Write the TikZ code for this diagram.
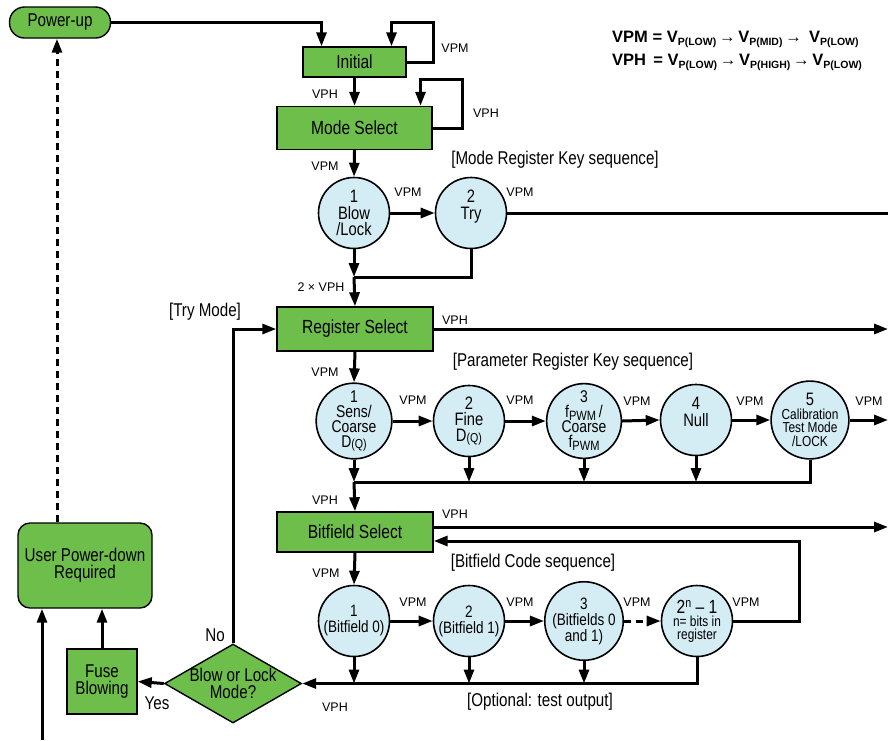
\documentclass[tikz,border=0pt]{standalone}
\usepackage{fontspec}
\setmainfont{Liberation Sans}
\newfontfamily\nar[FakeStretch=0.82]{Liberation Sans}
\usetikzlibrary{arrows.meta,shapes.geometric}
\definecolor{gfill}{RGB}{110,190,75}
\definecolor{cfill}{RGB}{212,236,244}
\newcommand\fs[2]{\fontsize{#1}{#2}\selectfont}
\newcommand\ssub[1]{\raisebox{-3.5pt}{\fs{10.5}{10.5}#1}}
\newcommand\arr{{\mdseries\,→\,}}
\newcommand\dq{\raisebox{-1.5pt}{\fs{13}{13}(Q)}}
\newcommand\fpwm{f\raisebox{-3pt}{\fs{13.5}{13.5}PWM}}
\begin{document}
\begin{tikzpicture}[x=1pt,y=-1pt,
 gbox/.style={draw, line width=1.4pt, fill=gfill, inner sep=0pt, align=center, font=\nar\fs{19}{19}},
 circ/.style={circle, draw, line width=1.6pt, fill=cfill, minimum size=71pt, inner sep=0pt, align=center, font=\nar\fs{18}{16.5}},
 lab/.style={inner sep=0pt, font=\fs{12.5}{13}},
 nlab/.style={inner sep=0pt, font=\nar\fs{18.5}{18}},
 flow/.style={line width=3pt, -{Triangle[length=14pt,width=10pt]}},
 dflow/.style={flow, dash pattern=on 7pt off 5pt},
 bus/.style={line width=3pt},
]
\useasboundingbox (0,0) rectangle (888,740);

% nodes
\node[gbox, rounded corners=15pt, minimum width=101pt, minimum height=31pt, font=\nar\fs{18.5}{18}] (pu) at (60,22.5) {Power-up};
\node[gbox, minimum width=103pt, minimum height=30pt] (init) at (354.5,62) {Initial};
\node[gbox, minimum width=155pt, minimum height=43pt] (ms) at (354.5,128) {Mode Select};
\node[circ] (m1) at (354,213) {1\\Blow\\/Lock};
\node[circ] (m2) at (471,213) {2\\Try\\\mbox{}};
\node[gbox, minimum width=156pt, minimum height=44pt] (rs) at (355,329) {Register Select};

\node[circ, font=\nar\fs{17}{15}] (p1) at (354,421) {1\\Sens/\\Coarse\\D\dq};
\node[circ, font=\nar\fs{18}{16}] (p2) at (469,421) {2\\Fine\\D\dq};
\node[circ, font=\nar\fs{17}{15}] (p3) at (584,421) {3\\\fpwm\,/\\Coarse\\\fpwm};
\node[circ] (p4) at (696,420) {4\\Null\\\mbox{}};
\node[circ, font=\nar\fs{14.5}{13.5}] (p5) at (810,420) {{\fs{18}{13.5}5}\\Calibration\\Test Mode\\/LOCK};

\node[gbox, minimum width=156pt, minimum height=40pt] (bs) at (355,532) {Bitfield Select};
\node[circ, font=\nar\fs{16.5}{16}] (b1) at (354,621) {1\\(Bitfield 0)};
\node[circ, font=\nar\fs{16.5}{16}] (b2) at (469,621) {2\\(Bitfield 1)};
\node[circ, font=\nar\fs{16.5}{16}] (b3) at (584,621) {3\\(Bitfields 0\\and 1)};
\node[circ, font=\nar\fs{14.5}{13}] (b4) at (697,621) {{\fs{19}{17}2\raisebox{6pt}{\fs{13}{13}n} – 1}\\n= bits in\\register};

\node[diamond, draw, line width=1.4pt, fill=gfill, minimum width=137pt, minimum height=79pt, inner sep=0pt, align=center, font=\nar\fs{18.5}{17}] (dia) at (233,683.5) {\makebox[0pt]{Blow or Lock}\\\makebox[0pt]{Mode?}};
\node[gbox, minimum width=70pt, minimum height=65pt, font=\nar\fs{18.5}{17}] (fuse) at (102,681.5) {Fuse\\Blowing};
\node[gbox, rounded corners=12pt, minimum width=134pt, minimum height=85pt, font=\nar\fs{18.5}{17}] (upd) at (85,565.5) {User Power-down\\Required};

% free ends
\coordinate (eR1) at (888,213);
\coordinate (eR2) at (888,329);
\coordinate (eR3) at (888,420);
\coordinate (eR4) at (888,527);
\coordinate (eB) at (42,740);
\coordinate (j1) at (354,277);
\coordinate (j2) at (354,482);

% connectors
\draw[flow] (pu.east) -| ([xshift=-33pt]init.north);
\draw[flow] (init.east) -- ++(27,0) -- ++(0,-40) -| ([xshift=37pt]init.north);
\draw[flow] (init.south) -- (ms.north);
\draw[flow] (ms.east) -- ++(30,0) -- ++(0,-49) -| ([xshift=66pt]ms.north);
\draw[flow] (ms.south) -- (m1.north);
\draw[flow] (m1.east) -- (m2.west);
\draw[bus] (m2.east) -- (eR1);
\draw[flow] (m1.south) -- (j1);
\draw[bus] (m2.south) |- (j1);
\draw[flow] (j1) -- (rs.north);
\draw[flow] (rs.east) -- (eR2);
\draw[flow] (rs.south) -- (p1.north);
\draw[flow] (p1.east) -- (p2.west);
\draw[flow] (p2.east) -- (p3.west);
\draw[flow] (p3.east) -- (p4.west);
\draw[flow] (p4.east) -- (p5.west);
\draw[flow] (p5.east) -- (eR3);
\draw[flow] (p1.south) -- (j2);
\draw[flow] (p2.south) -- (p2.south |- j2);
\draw[flow] (p3.south) -- (p3.south |- j2);
\draw[flow] (p4.south) -- (p4.south |- j2);
\draw[bus] (p5.south) |- (j2);
\draw[flow] (j2) -- (bs.north);
\draw[flow] ([yshift=5pt]bs.east) -- (eR4);
\draw[flow] (bs.south) -- (b1.north);
\draw[flow] (b1.east) -- (b2.west);
\draw[flow] (b2.east) -- (b3.west);
\draw[dflow] (b3.east) -- (b4.west);
\draw[flow] (b4.east) -- ++(66,0) |- ([yshift=-9pt]bs.east);
\draw[flow] (b1.south) -- (b1.south |- dia.east);
\draw[flow] (b2.south) -- (b2.south |- dia.east);
\draw[flow] (b3.south) -- (b3.south |- dia.east);
\draw[flow] (b4.south) |- (dia.east);
\draw[flow] (dia.north) |- (rs.west);
\draw[flow] (dia.west) -- (fuse.east);
\draw[flow] (fuse.north) -- (fuse.north |- upd.south);
\draw[flow] (eB) -- (eB |- upd.south);
\draw[dflow] ([xshift=-28pt]upd.north) -- ([xshift=-28pt]upd.north |- pu.south);

% labels
\node[lab] (l1) at (455,48) {VPM};
\node[lab] (l2) at (325,94) {VPH};
\node[lab] (l3) at (486,113) {VPH};
\node[lab] (l4) at (325,166) {VPM};
\node[lab] (l5) at (408,192) {VPM};
\node[lab] (l6) at (520,192) {VPM};
\node[lab] (l7) at (321,287) {2 × VPH};
\node[lab] (l8) at (455,320) {VPH};
\node[lab] (l9) at (325,372) {VPM};
\node[lab] (l10) at (413,400) {VPM};
\node[lab] (l11) at (520,400) {VPM};
\node[lab] (l12) at (637,401) {VPM};
\node[lab] (l13) at (750,401) {VPM};
\node[lab] (l14) at (869,401) {VPM};
\node[lab] (l15) at (325,500) {VPH};
\node[lab] (l16) at (455,514) {VPH};
\node[lab] (l17) at (326,573) {VPM};
\node[lab] (l18) at (413,602) {VPM};
\node[lab] (l19) at (520,602) {VPM};
\node[lab] (l20) at (637,602) {VPM};
\node[lab] (l21) at (746,602) {VPM};
\node[lab] (l22) at (335,707) {VPH};

\node[nlab] (t1) at (555,160) {[Mode Register Key sequence]};
\node[nlab] (t2) at (205,312) {[Try Mode]};
\node[nlab] (t3) at (573,362) {[Parameter Register Key sequence]};
\node[nlab] (t4) at (533,563) {[Bitfield Code sequence]};
\node[nlab] (t5) at (540,702) {[Optional: test output]};
\node[nlab] (t6) at (215,635) {No};
\node[nlab] (t7) at (157,703) {Yes};

\node[anchor=base west, inner sep=0pt, font=\bfseries\fs{16.5}{16}] (eq1) at (612,42) {VPM = V\ssub{P(LOW)}\arr V\ssub{P(MID)}\arr\ V\ssub{P(LOW)}};
\node[anchor=base west, inner sep=0pt, font=\bfseries\fs{16.5}{16}] (eq2) at (612,65) {VPH \,= V\ssub{P(LOW)}\arr V\ssub{P(HIGH)}\arr V\ssub{P(LOW)}};
\end{tikzpicture}
\end{document}
